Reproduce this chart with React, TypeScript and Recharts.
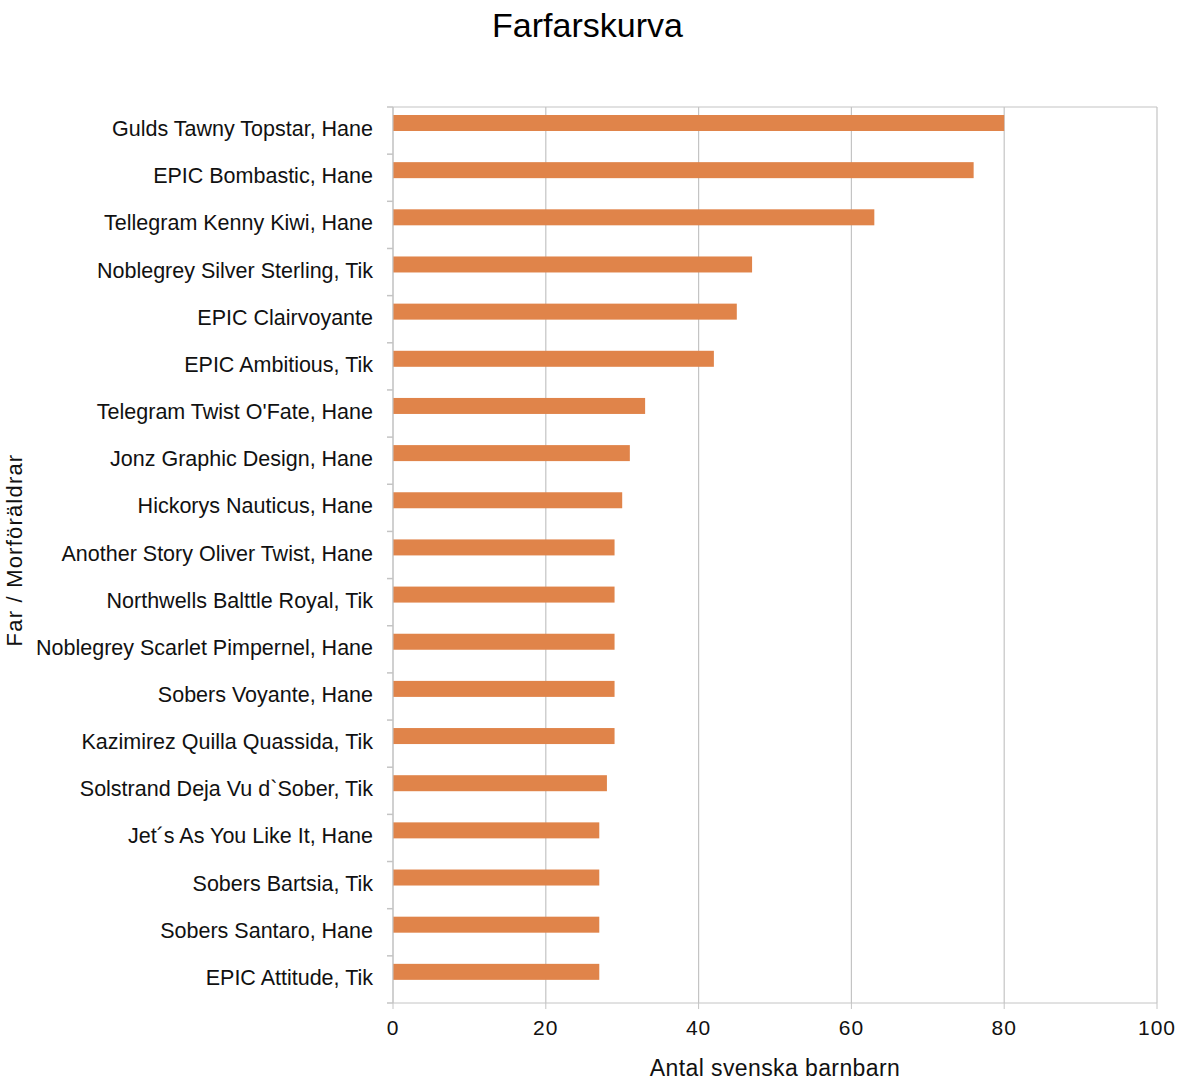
import React from 'react';
import { BarChart, Bar, XAxis, YAxis, CartesianGrid, Label } from 'recharts';

const names = [
  'Gulds Tawny Topstar, Hane',
  'EPIC Bombastic, Hane',
  'Tellegram Kenny Kiwi, Hane',
  'Noblegrey Silver Sterling, Tik',
  'EPIC Clairvoyante',
  'EPIC Ambitious, Tik',
  "Telegram Twist O'Fate, Hane",
  'Jonz Graphic Design, Hane',
  'Hickorys Nauticus, Hane',
  'Another Story Oliver Twist, Hane',
  'Northwells Balttle Royal, Tik',
  'Noblegrey Scarlet Pimpernel, Hane',
  'Sobers Voyante, Hane',
  'Kazimirez Quilla Quassida, Tik',
  'Solstrand Deja Vu d`Sober, Tik',
  'Jet´s As You Like It, Hane',
  'Sobers Bartsia, Tik',
  'Sobers Santaro, Hane',
  'EPIC Attitude, Tik',
];
const grandchildren = [80, 76, 63, 47, 45, 42, 33, 31, 30, 29, 29, 29, 29, 29, 28, 27, 27, 27, 27];
const xTicks = [0, 20, 40, 60, 80, 100];

const data = names.map((name, i) => ({ name, value: grandchildren[i] }));

const FONT = '"Liberation Sans", Arial, Helvetica, sans-serif';
const BAR_COLOR = '#e0844a';
const GRID = '#c4c4c4';
const CHART_W = 1184;
const CHART_H = 1082;
const TOP = 107;
const X_AXIS_H = 79;
const BAND = (CHART_H - TOP - X_AXIS_H) / names.length;

const CategoryTick = (props: any) => {
  const { x, y, payload, index } = props;
  return (
    <g>
      <line x1={x - 4} x2={x + 2} y1={y - BAND / 2} y2={y - BAND / 2} stroke={GRID} strokeWidth={1.5} />
      {index === names.length - 1 && (
        <line x1={x - 4} x2={x + 2} y1={y + BAND / 2} y2={y + BAND / 2} stroke={GRID} strokeWidth={1.5} />
      )}
      <text x={x - 18} y={y} dy={5.5} textAnchor="end" fontSize={21.5} fill="#111" fontFamily={FONT}>
        {payload.value}
      </text>
    </g>
  );
};

// bars sit a little above the band centre, as in the original export
const RaisedBar = (props: any) => {
  const { x, y, width, height, fill } = props;
  return <rect x={x} y={y - 8} width={width} height={height} fill={fill} />;
};

const App: React.FC = () => {
  return (
    <div style={{ position: 'relative', width: CHART_W, height: CHART_H, fontFamily: FONT }}>
      <style>{'body { margin: 0; overflow: hidden; }'}</style>
      <div
        style={{
          position: 'absolute',
          top: 6,
          left: 0,
          width: CHART_W - 9,
          paddingRight: 9,
          textAlign: 'center',
          fontSize: 34,
          color: '#000',
        }}
      >
        Farfarskurva
      </div>
      <BarChart
        width={CHART_W}
        height={CHART_H}
        data={data}
        layout="vertical"
        margin={{ top: TOP, right: 27, bottom: 0, left: 0 }}
      >
        <CartesianGrid horizontalPoints={[TOP]} stroke={GRID} strokeWidth={1.2} />
        <XAxis
          type="number"
          domain={[0, 100]}
          ticks={xTicks}
          height={X_AXIS_H}
          stroke={GRID}
          tickSize={6}
          tickMargin={11}
          tick={{ fontSize: 21, fill: '#111', fontFamily: FONT, letterSpacing: 1 }}
        >
          <Label
            value="Antal svenska barnbarn"
            position="insideBottom"
            offset={6}
            fontSize={23}
            fill="#111"
            fontFamily={FONT}
            style={{ letterSpacing: 0.4 }}
          />
        </XAxis>
        <YAxis
          type="category"
          dataKey="name"
          width={393}
          stroke={GRID}
          tickLine={false}
          tickSize={0}
          tick={<CategoryTick />}
          interval={0}
        >
          <Label
            value="Far / Morföräldrar"
            angle={-90}
            position="insideLeft"
            offset={14}
            dx={0}
            dy={-5}
            fontSize={22}
            fill="#111"
            fontFamily={FONT}
            style={{ textAnchor: 'middle', letterSpacing: 1.2 }}
          />
        </YAxis>
        <Bar dataKey="value" fill={BAR_COLOR} barSize={16} shape={<RaisedBar />} isAnimationActive={false} />
      </BarChart>
    </div>
  );
};

export default App;
